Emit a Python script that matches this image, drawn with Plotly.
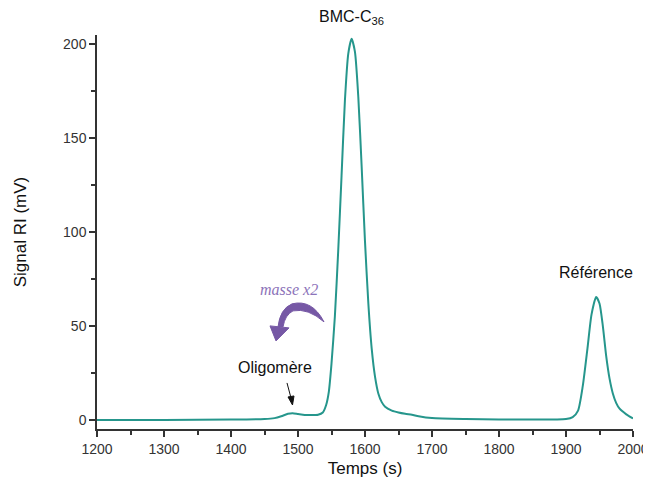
import plotly.graph_objects as go

# Data
temps = [1200, 1300, 1400, 1450, 1465, 1475, 1485, 1492, 1500, 1510, 1520, 1530, 1537,
         1542, 1546, 1550, 1555, 1560, 1565, 1570, 1575, 1580, 1585, 1590, 1595, 1600,
         1605, 1610, 1615, 1620, 1625, 1630, 1640, 1650, 1660, 1670, 1680, 1700, 1750,
         1800, 1850, 1900, 1910, 1918, 1925, 1932, 1938, 1945, 1950, 1955, 1960, 1965,
         1970, 1975, 1980, 1990, 2000]
signal = [0.0, 0.0, 0.2, 0.5, 1.0, 2.0, 3.3, 3.6, 3.2, 2.7, 2.6, 2.8, 4.0,
          8, 15, 30, 55, 90, 130, 170, 195, 203, 196, 172, 135, 95,
          62, 38, 23, 14, 9.5, 7, 5, 4, 3.3, 2.8, 2.0, 1.0, 0.5,
          0.3, 0.2, 0.5, 1.5, 5, 18, 38, 56, 65.5, 62, 50, 34, 22,
          14, 9, 6, 3, 0.8]

x_ticks = [1200, 1300, 1400, 1500, 1600, 1700, 1800, 1900, 2000]
y_ticks = [0, 50, 100, 150, 200]

TEAL = "rgb(38,150,140)"
PURPLE = "rgb(118,88,165)"

fig = go.Figure()
fig.add_trace(go.Scatter(x=temps, y=signal, mode="lines",
                         line=dict(color=TEAL, width=2, shape="spline", smoothing=0.6),
                         showlegend=False, hoverinfo="skip"))

# pixel (page) -> data helper for decorations
def px(xp, yp):
    return 1200 + (xp - 97) / 0.67, (420 - yp) / 1.876

def P(xp, yp):
    x, y = px(xp, yp)
    return f"{x:.2f},{y:.3f}"

arc = (f"M {P(324,322)} Q {P(312,299)} {P(292,304)} Q {P(280,309)} {P(278,327)} "
       f"L {P(283,327)} Q {P(285,315)} {P(293,311)} Q {P(308,308)} {P(324,322)} Z")
head = f"M {P(270,326)} L {P(289,328)} L {P(276,341)} Z"
for path in (arc, head):
    fig.add_shape(type="path", path=path, xref="x", yref="y",
                  fillcolor=PURPLE, line=dict(color=PURPLE, width=1))

# small black arrow pointing at the oligomer bump
fig.add_shape(type="line", xref="x", yref="y",
              x0=px(287, 383)[0], y0=px(287, 383)[1], x1=px(291, 398)[0], y1=px(291, 398)[1],
              line=dict(color="#111", width=1))
fig.add_shape(type="path", xref="x", yref="y",
              path=f"M {P(288,397)} L {P(294,396)} L {P(292.5,405)} Z",
              fillcolor="#111", line=dict(color="#111", width=1))

font = "Liberation Sans, Arial, sans-serif"
fig.add_annotation(x=1580, y=1.045, xref="x", yref="paper", text="BMC-C<sub>36</sub>",
                   showarrow=False, font=dict(family=font, size=16, color="#111"),
                   xanchor="center", yanchor="middle")
fig.add_annotation(x=1945, y=(420 - 273) / 1.876, xref="x", yref="y", text="Référence",
                   showarrow=False, font=dict(family=font, size=16, color="#111"))
fig.add_annotation(x=px(275, 368)[0], y=px(275, 368)[1], xref="x", yref="y", text="Oligomère",
                   showarrow=False, font=dict(family=font, size=16, color="#111"))
fig.add_annotation(x=px(289, 290)[0], y=px(289, 290)[1], xref="x", yref="y", text="<i>masse x2</i>",
                   showarrow=False, font=dict(family="Liberation Serif, DejaVu Serif, serif",
                                              size=16, color="rgb(140,115,185)"))

axis_common = dict(showline=True, linecolor="#333", linewidth=1.5, ticks="outside",
                   ticklen=6, tickwidth=1.5, tickcolor="#333", showgrid=False, zeroline=False,
                   tickfont=dict(family=font, size=14, color="#333"), automargin=False,
                   ticklabeloverflow="allow",
                   title_font=dict(family=font, size=17, color="#111"), mirror=False)

fig.update_xaxes(range=[1200, 2000], tickvals=x_ticks, title_text="Temps (s)",
                 minor=dict(ticks="outside", ticklen=4, tickwidth=1.5, tickcolor="#333", dtick=50),
                 title_standoff=7, **axis_common)
fig.update_yaxes(range=[-4.8, 205], tickvals=y_ticks, title_text="Signal RI (mV)",
                 minor=dict(ticks="outside", ticklen=4, tickwidth=1.5, tickcolor="#333", dtick=25),
                 title_standoff=32, **axis_common)

# page body has an 8px margin, so the figure is shifted by 8px
fig.update_layout(width=643, height=475, margin=dict(l=89, r=18, t=27, b=54),
                  plot_bgcolor="white", paper_bgcolor="white")

fig.write_html("out.html")
